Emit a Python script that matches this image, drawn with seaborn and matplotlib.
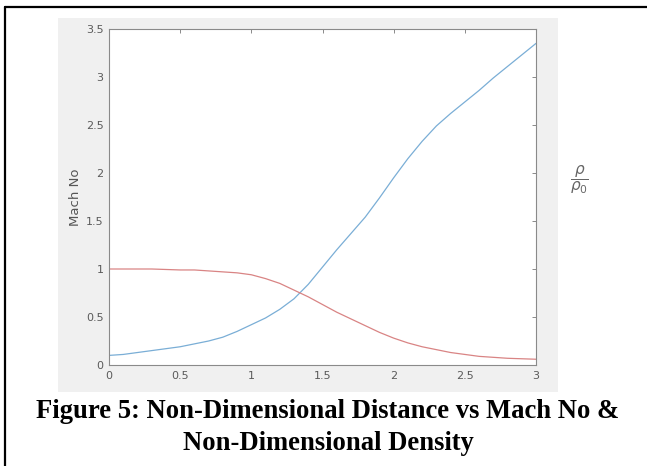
import matplotlib
matplotlib.use("Agg")
import matplotlib.pyplot as plt
import matplotlib.patches as mpatches
import matplotlib.lines as mlines
import pandas as pd
import seaborn as sns

# values
distance = [0.0, 0.1, 0.2, 0.3, 0.4, 0.5, 0.6, 0.7, 0.8, 0.9, 1.0,
            1.1, 1.2, 1.3, 1.4, 1.5, 1.6, 1.7, 1.8, 1.9, 2.0,
            2.1, 2.2, 2.3, 2.4, 2.5, 2.6, 2.7, 2.8, 2.9, 3.0]
mach = [0.10, 0.11, 0.13, 0.15, 0.17, 0.19, 0.22, 0.25, 0.29, 0.35, 0.42,
        0.49, 0.58, 0.69, 0.84, 1.02, 1.20, 1.37, 1.54, 1.74, 1.95,
        2.15, 2.33, 2.49, 2.62, 2.74, 2.86, 2.99, 3.11, 3.23, 3.35]
density = [1.0, 1.0, 1.0, 1.0, 0.995, 0.99, 0.99, 0.98, 0.97, 0.96, 0.94,
           0.90, 0.85, 0.78, 0.71, 0.63, 0.55, 0.48, 0.41, 0.34, 0.28,
           0.23, 0.19, 0.16, 0.13, 0.11, 0.09, 0.08, 0.07, 0.065, 0.06]

xticks = [0, 0.5, 1, 1.5, 2, 2.5, 3]
xticklabels = ['0', '0.5', '1', '1.5', '2', '2.5', '3']
yticks = [0, 0.5, 1, 1.5, 2, 2.5, 3, 3.5]
yticklabels = ['0', '0.5', '1', '1.5', '2', '2.5', '3', '3.5']

df = pd.DataFrame({'x': distance, 'mach': mach, 'rho': density})

sns.set_style("white")
W, H = 647, 466
fig = plt.figure(figsize=(W / 100, H / 100), dpi=100)
fig.patch.set_facecolor('white')

# grey matlab figure background
fig.patches.append(mpatches.Rectangle((58 / W, 1 - 392 / H), 500 / W, 374 / H,
                                      transform=fig.transFigure, facecolor='#f0f0f0',
                                      edgecolor='none', zorder=-5))
# page border (top and left only, picture is cropped)
fig.lines.append(mlines.Line2D([4.5 / W, 1], [1 - 7 / H, 1 - 7 / H], transform=fig.transFigure,
                               color='black', lw=1.6))
fig.lines.append(mlines.Line2D([4.5 / W, 4.5 / W], [1 - 7 / H, 0], transform=fig.transFigure,
                               color='black', lw=1.6))

ax = fig.add_axes([109 / W, 1 - 365 / H, 427 / W, 336 / H])
ax.set_zorder(2)
ax.set_facecolor('white')
sns.lineplot(data=df, x='x', y='mach', ax=ax, color='#7aaed6', lw=0.9)
sns.lineplot(data=df, x='x', y='rho', ax=ax, color='#d98484', lw=0.9)

ax.set_xlim(0, 3)
ax.set_ylim(0, 3.5)
ax.set_xticks(xticks)
ax.set_xticklabels(xticklabels)
ax.set_yticks(yticks)
ax.set_yticklabels(yticklabels)
ax.tick_params(direction='in', length=3, width=0.6, colors='#777777', labelcolor='#5a5a5a',
               labelsize=8, top=True, right=True, pad=4)
for s in ax.spines.values():
    s.set_visible(True)
    s.set_color('#8a8a8a')
    s.set_linewidth(0.8)
ax.set_xlabel('')
ax.set_ylabel('Mach No', color='#555555', fontsize=9.5, labelpad=3)

fig.text(579 / W, 1 - 180 / H, r'$\dfrac{\rho}{\rho_0}$', color='#666666', fontsize=11,
         ha='center', va='center')

cap = dict(family='Liberation Serif', weight='bold', fontsize=19.2, ha='center',
           va='baseline', color='black')
fig.text(328 / W, 1 - 418 / H, 'Figure 5: Non-Dimensional Distance vs Mach No &', **cap)
fig.text(328 / W, 1 - 450 / H, 'Non-Dimensional Density', **cap)

fig.savefig('out.png', dpi=100)
